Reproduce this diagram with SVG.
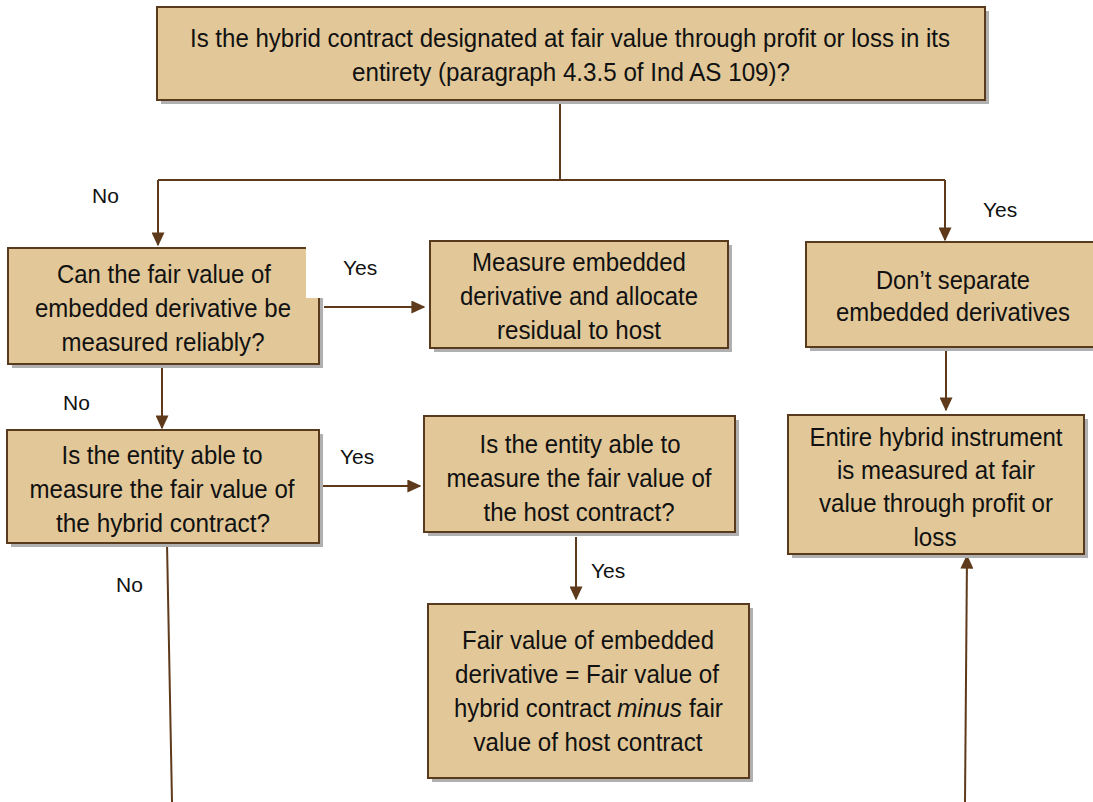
<svg xmlns="http://www.w3.org/2000/svg" width="1093" height="802" viewBox="0 0 1093 802">
<style>
.box{fill:#E2C899;stroke:#5A3A1C;stroke-width:2}
.sh{fill:#B0B0B0}
.t{font-family:"Liberation Sans",Arial,sans-serif;font-size:25px;fill:#111;text-anchor:middle}
.ts{font-family:"Liberation Sans",Arial,sans-serif;font-size:25px;fill:#111}
.lbl{font-family:"Liberation Sans",Arial,sans-serif;font-size:21px;fill:#111}
.c{fill:none;stroke:#5E3A1A;stroke-width:2}
</style>
<defs>
<marker id="ah" viewBox="0 0 10 10" refX="9" refY="5" markerWidth="14" markerHeight="13" markerUnits="userSpaceOnUse" orient="auto" preserveAspectRatio="none">
<path d="M0,0 L10,5 L0,10 Z" fill="#5E3A1A"/>
</marker>
</defs>
<rect width="1093" height="802" fill="#fff"/>
<g id="connectors">
<path class="c" d="M560,100 V180"/>
<path class="c" d="M158,180 H945"/>
<path class="c" d="M158,180 V245" marker-end="url(#ah)"/>
<path class="c" d="M945,180 V240" marker-end="url(#ah)"/>
<path class="c" d="M324,307 H424" marker-end="url(#ah)"/>
<path class="c" d="M162,364 V428" marker-end="url(#ah)"/>
<path class="c" d="M322,486 H420" marker-end="url(#ah)"/>
<path class="c" d="M576,537 V599" marker-end="url(#ah)"/>
<path class="c" d="M946,347 V410" marker-end="url(#ah)"/>
<path class="c" d="M167,543 L172,802"/>
<path class="c" d="M965,802 L967,556" marker-end="url(#ah)"/>
<text class="lbl" x="92" y="203">No</text>
<text class="lbl" x="983" y="217">Yes</text>
<text class="lbl" x="343" y="275">Yes</text>
<text class="lbl" x="63" y="410">No</text>
<text class="lbl" x="340" y="464">Yes</text>
<text class="lbl" x="591" y="578">Yes</text>
<text class="lbl" x="116" y="592">No</text>
</g>
<g id="n-top">
<rect class="sh" x="161" y="11" width="828" height="93"/>
<rect class="box" x="157" y="7" width="828" height="93"/>
<text class="t" x="570" y="47" textLength="760" lengthAdjust="spacingAndGlyphs">Is the hybrid contract designated at fair value through profit or loss in its</text>
<text class="t" x="571" y="81" textLength="438" lengthAdjust="spacingAndGlyphs">entirety (paragraph 4.3.5 of Ind AS 109)?</text>
</g>
<g id="n-reliable">
<rect class="sh" x="12" y="252" width="311" height="116"/>
<rect class="box" x="8" y="248" width="311" height="116"/>
<rect x="306" y="244" width="18" height="54" fill="#fff"/>
<text class="t" x="164" y="283" textLength="214" lengthAdjust="spacingAndGlyphs">Can the fair value of</text>
<text class="t" x="163" y="317" textLength="256" lengthAdjust="spacingAndGlyphs">embedded derivative be</text>
<text class="t" x="163" y="351" textLength="203" lengthAdjust="spacingAndGlyphs">measured reliably?</text>
</g>
<g id="n-measure">
<rect class="sh" x="434" y="245" width="298" height="107"/>
<rect class="box" x="430" y="241" width="298" height="107"/>
<text class="t" x="579" y="271" textLength="214" lengthAdjust="spacingAndGlyphs">Measure embedded</text>
<text class="t" x="579" y="305" textLength="238" lengthAdjust="spacingAndGlyphs">derivative and allocate</text>
<text class="t" x="579" y="339" textLength="164" lengthAdjust="spacingAndGlyphs">residual to host</text>
</g>
<g id="n-dont">
<rect class="sh" x="810" y="246" width="290" height="105"/>
<rect class="box" x="806" y="242" width="292" height="105"/>
<text class="t" x="953" y="289" textLength="154" lengthAdjust="spacingAndGlyphs">Don’t separate</text>
<text class="t" x="953" y="321" textLength="234" lengthAdjust="spacingAndGlyphs">embedded derivatives</text>
</g>
<g id="n-entire">
<rect class="sh" x="792" y="419" width="296" height="139"/>
<rect class="box" x="788" y="415" width="296" height="139"/>
<text class="t" x="936" y="446" textLength="253" lengthAdjust="spacingAndGlyphs">Entire hybrid instrument</text>
<text class="t" x="936" y="479" textLength="198" lengthAdjust="spacingAndGlyphs">is measured at fair</text>
<text class="t" x="936" y="512" textLength="234" lengthAdjust="spacingAndGlyphs">value through profit or</text>
<text class="t" x="935" y="546" textLength="43" lengthAdjust="spacingAndGlyphs">loss</text>
</g>
<g id="n-hybrid">
<rect class="sh" x="11" y="434" width="312" height="113"/>
<rect class="box" x="7" y="430" width="312" height="113"/>
<text class="t" x="162" y="464" textLength="201" lengthAdjust="spacingAndGlyphs">Is the entity able to</text>
<text class="t" x="162" y="498" textLength="265" lengthAdjust="spacingAndGlyphs">measure the fair value of</text>
<text class="t" x="163" y="532" textLength="214" lengthAdjust="spacingAndGlyphs">the hybrid contract?</text>
</g>
<g id="n-host">
<rect class="sh" x="428" y="420" width="311" height="116"/>
<rect class="box" x="424" y="416" width="311" height="116"/>
<text class="t" x="580" y="453" textLength="201" lengthAdjust="spacingAndGlyphs">Is the entity able to</text>
<text class="t" x="579" y="487" textLength="265" lengthAdjust="spacingAndGlyphs">measure the fair value of</text>
<text class="t" x="579" y="521" textLength="191" lengthAdjust="spacingAndGlyphs">the host contract?</text>
</g>
<g id="n-fv">
<rect class="sh" x="432" y="608" width="321" height="174"/>
<rect class="box" x="428" y="604" width="321" height="174"/>
<text class="t" x="588" y="649" textLength="252" lengthAdjust="spacingAndGlyphs">Fair value of embedded</text>
<text class="t" x="587" y="683" textLength="264" lengthAdjust="spacingAndGlyphs">derivative = Fair value of</text>
<text class="ts" x="454" y="717" textLength="157" lengthAdjust="spacingAndGlyphs">hybrid contract</text>
<text class="ts" x="617" y="717" font-style="italic" textLength="65" lengthAdjust="spacingAndGlyphs">minus</text>
<text class="ts" x="689" y="717" textLength="34" lengthAdjust="spacingAndGlyphs">fair</text>
<text class="t" x="588" y="751" textLength="229" lengthAdjust="spacingAndGlyphs">value of host contract</text>
</g>
</svg>
